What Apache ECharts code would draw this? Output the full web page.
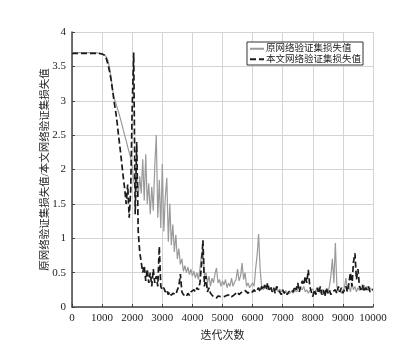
<!DOCTYPE html>
<html><head><meta charset="utf-8">
<script src="https://cdn.jsdelivr.net/npm/echarts@6/dist/echarts.min.js"></script>
<style>html,body{margin:0;padding:0;background:#fff}#c{width:412px;height:360px}</style>
</head><body><div id="c"></div>
<script>
const step = 50;
const xTicks = [0,1000,2000,3000,4000,5000,6000,7000,8000,9000,10000];
const yTicks = [0,0.5,1,1.5,2,2.5,3,3.5,4];
const seriesNames = ['原网络验证集损失值','本文网络验证集损失值'];
// original network validation loss, one value every 50 iterations (0..10000)
const origLoss = [
3.70,3.70,3.70,3.70,3.70,3.70,3.70,3.70,3.70,3.70,3.70,3.70,3.70,3.70,3.70,3.70,3.70,3.70,3.69,3.69,
3.68,3.67,3.66,3.63,3.58,3.48,3.33,3.16,3.04,2.97,2.90,2.83,2.75,2.67,2.58,2.50,2.42,2.33,2.25,2.17,
2.05,1.85,1.70,1.95,1.60,1.90,1.65,2.15,1.55,2.22,1.50,1.80,1.35,1.75,1.40,2.05,2.50,1.30,1.85,1.15,
2.08,1.10,1.60,1.88,0.95,1.50,0.90,1.20,0.80,1.05,0.70,0.85,0.62,0.70,0.52,0.60,0.50,0.58,0.47,0.55,
0.45,0.52,0.42,0.50,0.40,0.55,0.75,0.85,0.45,0.50,0.35,0.45,0.30,0.42,0.35,0.48,0.57,0.35,0.40,0.30,
0.38,0.32,0.40,0.28,0.35,0.30,0.42,0.30,0.36,0.40,0.55,0.38,0.45,0.64,0.40,0.50,0.30,0.35,0.28,0.30,
0.35,0.30,0.55,0.75,1.06,0.55,0.30,0.25,0.28,0.32,0.25,0.28,0.30,0.25,0.27,0.24,0.30,0.22,0.26,0.22,
0.25,0.20,0.24,0.20,0.22,0.20,0.23,0.20,0.25,0.22,0.20,0.28,0.30,0.25,0.30,0.22,0.25,0.20,0.24,0.22,
0.26,0.20,0.25,0.22,0.28,0.20,0.24,0.20,0.22,0.25,0.20,0.30,0.45,0.70,0.35,0.93,0.30,0.22,0.25,0.20,
0.24,0.28,0.42,0.25,0.30,0.22,0.35,0.25,0.30,0.22,0.28,0.24,0.30,0.25,0.32,0.26,0.30,0.24,0.28,0.25,
0.27
];
// proposed network validation loss, one value every 50 iterations (0..10000)
const newLoss = [
3.69,3.69,3.69,3.69,3.69,3.69,3.69,3.69,3.69,3.69,3.69,3.69,3.69,3.69,3.69,3.69,3.69,3.69,3.69,3.69,
3.68,3.67,3.66,3.60,3.52,3.42,3.30,3.15,2.98,2.85,2.68,2.48,2.30,2.10,1.90,1.72,1.50,1.78,1.30,1.70,
2.90,3.70,1.35,2.40,1.10,0.80,0.65,0.50,0.60,0.38,0.55,0.35,0.50,0.30,0.55,0.35,0.45,0.30,0.88,0.30,
0.25,0.28,0.22,0.25,0.18,0.22,0.17,0.20,0.22,0.18,0.25,0.30,0.48,0.22,0.18,0.20,0.15,0.20,0.17,0.22,
0.20,0.25,0.22,0.28,0.25,0.35,0.60,0.97,0.30,0.45,0.22,0.28,0.20,0.18,0.15,0.17,0.13,0.16,0.14,0.15,
0.13,0.15,0.14,0.17,0.15,0.18,0.15,0.14,0.18,0.20,0.22,0.18,0.20,0.22,0.20,0.24,0.22,0.20,0.23,0.21,
0.22,0.25,0.22,0.25,0.28,0.22,0.30,0.25,0.32,0.25,0.35,0.25,0.30,0.22,0.28,0.20,0.30,0.25,0.22,0.18,
0.25,0.20,0.23,0.18,0.22,0.20,0.25,0.22,0.30,0.25,0.35,0.22,0.30,0.38,0.32,0.45,0.35,0.54,0.30,0.22,
0.15,0.25,0.18,0.28,0.20,0.30,0.18,0.25,0.15,0.28,0.20,0.25,0.18,0.22,0.20,0.25,0.20,0.30,0.22,0.28,
0.20,0.25,0.30,0.22,0.35,0.50,0.30,0.65,0.78,0.40,0.55,0.30,0.25,0.32,0.22,0.28,0.25,0.30,0.22,0.25,
0.25
];
const toPairs = arr => arr.map((v,i)=>[i*step, v]);
const serif = '"Liberation Serif","Noto Sans CJK SC",serif';
const chart = echarts.init(document.getElementById('c'), null, {renderer:'canvas'});
chart.setOption({
  animation:false,
  backgroundColor:'#fff',
  grid:{left:72, right:39, top:32, bottom:53},
  legend:{
    orient:'vertical', right:49, top:42,
    backgroundColor:'#fff', borderColor:'#333', borderWidth:1, borderRadius:0,
    padding:[2,2,1,2], itemGap:1, itemWidth:14, itemHeight:8,
    itemStyle:{opacity:0},
    textStyle:{fontFamily:serif, fontSize:9.5, color:'#222', padding:[0,0,0,-3]},
    data:seriesNames
  },
  xAxis:{
    type:'value', min:0, max:10000, interval:1000,
    name:'迭代次数', nameLocation:'middle', nameGap:24,
    nameTextStyle:{fontFamily:serif, fontSize:11, color:'#222'},
    axisLine:{lineStyle:{color:'#444', width:1.5}},
    axisTick:{inside:true, length:3, lineStyle:{color:'#444'}},
    axisLabel:{fontFamily:serif, fontSize:11, color:'#222', margin:6,
      formatter:v=>xTicks.includes(v)?String(v):''},
    splitLine:{show:true, lineStyle:{color:'#d4d4d4', width:1}}
  },
  yAxis:{
    type:'value', min:0, max:4, interval:0.5,
    name:'原网络验证集损失值/本文网络验证集损失值', nameLocation:'middle', nameGap:22,
    nameMoveOverlap:false,
    nameTextStyle:{fontFamily:serif, fontSize:10.5, color:'#222'},
    axisLine:{show:true, lineStyle:{color:'#444', width:1.5}},
    axisTick:{show:true, inside:true, length:3, lineStyle:{color:'#444'}},
    axisLabel:{fontFamily:serif, fontSize:11, color:'#222', margin:6,
      formatter:v=>yTicks.includes(v)?String(v):''},
    splitLine:{show:true, lineStyle:{color:'#d4d4d4', width:1}}
  },
  series:[
    {name:seriesNames[0], type:'line', data:toPairs(origLoss), showSymbol:false, symbol:'none',
     lineStyle:{color:'#9a9a9a', width:1.2}, itemStyle:{color:'#9a9a9a'}, z:2},
    {name:seriesNames[1], type:'line', data:toPairs(newLoss), showSymbol:false, symbol:'none',
     lineStyle:{color:'#1a1a1a', width:1.7, type:[6,3]}, itemStyle:{color:'#1a1a1a'}, z:3}
  ]
});
</script></body></html>
